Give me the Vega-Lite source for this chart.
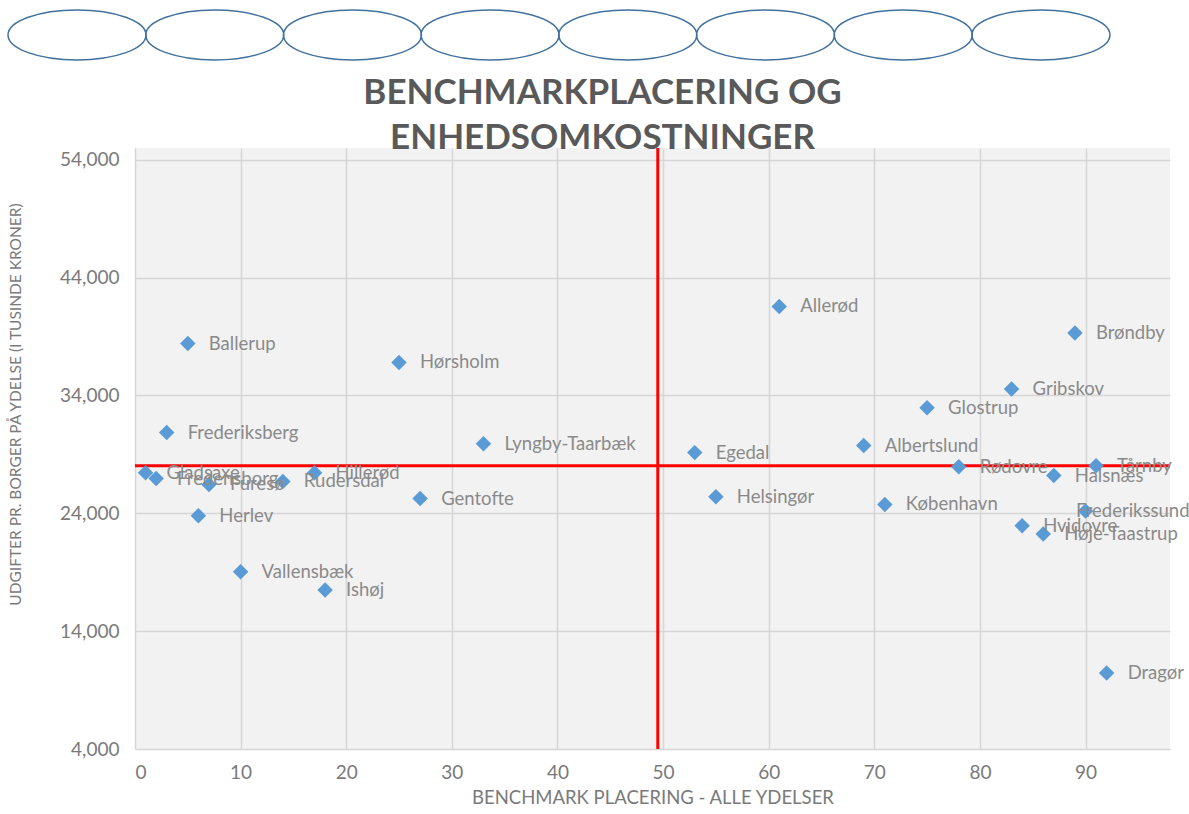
{
  "$schema": "https://vega.github.io/schema/vega-lite/v6.json",
  "width": 1035,
  "height": 601,
  "autosize": {"type": "none"},
  "padding": {"left": 135, "top": 148, "right": 19, "bottom": 65},
  "background": "white",
  "title": {
    "text": ["BENCHMARKPLACERING OG", "ENHEDSOMKOSTNINGER"],
    "frame": "group",
    "anchor": "middle",
    "dx": -50,
    "offset": -149,
    "font": "Lato",
    "fontSize": 35,
    "fontWeight": "bold",
    "color": "#595959",
    "lineHeight": 45
  },
  "config": {
    "view": {"fill": "#f2f2f2", "stroke": null},
    "axis": {
      "labelFont": "Lato",
      "titleFont": "Lato",
      "labelColor": "#7a7a7a",
      "titleColor": "#7a7a7a",
      "gridColor": "#d6d6d6",
      "gridWidth": 1.5,
      "domain": false,
      "ticks": false
    }
  },
  "datasets": {
    "kommuner": [
      {"kommune": "Ballerup", "placering": 5, "udgift": 38400},
      {"kommune": "Hørsholm", "placering": 25, "udgift": 36800},
      {"kommune": "Frederiksberg", "placering": 3, "udgift": 30850},
      {"kommune": "Lyngby-Taarbæk", "placering": 33, "udgift": 29900},
      {"kommune": "Gladsaxe", "placering": 1, "udgift": 27450},
      {"kommune": "Fredensborg", "placering": 2, "udgift": 26950},
      {"kommune": "Furesø", "placering": 7, "udgift": 26450},
      {"kommune": "Rudersdal", "placering": 14, "udgift": 26700},
      {"kommune": "Hillerød", "placering": 17, "udgift": 27450},
      {"kommune": "Gentofte", "placering": 27, "udgift": 25250},
      {"kommune": "Herlev", "placering": 6, "udgift": 23800},
      {"kommune": "Vallensbæk", "placering": 10, "udgift": 19050},
      {"kommune": "Ishøj", "placering": 18, "udgift": 17500},
      {"kommune": "Allerød", "placering": 61, "udgift": 41550},
      {"kommune": "Egedal", "placering": 53, "udgift": 29150},
      {"kommune": "Helsingør", "placering": 55, "udgift": 25400},
      {"kommune": "Albertslund", "placering": 69, "udgift": 29750},
      {"kommune": "København", "placering": 71, "udgift": 24750},
      {"kommune": "Glostrup", "placering": 75, "udgift": 32950},
      {"kommune": "Rødovre", "placering": 78, "udgift": 27950},
      {"kommune": "Gribskov", "placering": 83, "udgift": 34550},
      {"kommune": "Brøndby", "placering": 89, "udgift": 39300},
      {"kommune": "Halsnæs", "placering": 87, "udgift": 27200},
      {"kommune": "Tårnby", "placering": 91, "udgift": 28030},
      {"kommune": "Frederikssund", "placering": 90, "udgift": 24200},
      {"kommune": "Hvidovre", "placering": 84, "udgift": 22950},
      {"kommune": "Høje-Taastrup", "placering": 86, "udgift": 22250},
      {"kommune": "Dragør", "placering": 92, "udgift": 10450}
    ],
    "ellipser": [
      {"pos": -5.49, "niveau": 64590},
      {"pos": 7.55, "niveau": 64590},
      {"pos": 20.59, "niveau": 64590},
      {"pos": 33.62, "niveau": 64590},
      {"pos": 46.66, "niveau": 64590},
      {"pos": 59.70, "niveau": 64590},
      {"pos": 72.74, "niveau": 64590},
      {"pos": 85.78, "niveau": 64590}
    ],
    "skillelinjer_x": [{"median": 49.5}],
    "skillelinjer_y": [{"median": 28030}]
  },
  "layer": [
    {
      "data": {"name": "kommuner"},
      "mark": {"type": "point", "opacity": 0},
      "encoding": {
        "x": {
          "field": "placering", "type": "quantitative",
          "scale": {"domain": [0, 98], "nice": false, "zero": false},
          "axis": {
            "values": [0, 10, 20, 30, 40, 50, 60, 70, 80, 90],
            "title": "BENCHMARK PLACERING - ALLE YDELSER",
            "labelFontSize": 19,
            "labelPadding": 14,
            "titleFontSize": 18.5,
            "titleFontWeight": "normal",
            "titlePadding": 6
          }
        },
        "y": {
          "field": "udgift", "type": "quantitative",
          "scale": {"domain": [4000, 55000], "nice": false, "zero": false},
          "axis": {
            "values": [4000, 14000, 24000, 34000, 44000, 54000],
            "format": ",.0f",
            "title": "UDGIFTER PR. BORGER PÅ YDELSE (I TUSINDE KRONER)",
            "labelFontSize": 19,
            "labelPadding": 16,
            "titleFontSize": 15.5,
            "titleFontWeight": "normal",
            "titleY": 256,
            "titleX": -112
          }
        }
      }
    },
    {
      "data": {"name": "skillelinjer_x"},
      "mark": {"type": "rule", "color": "#ff0000", "strokeWidth": 3},
      "encoding": {"x": {"field": "median", "type": "quantitative"}}
    },
    {
      "data": {"name": "skillelinjer_y"},
      "mark": {"type": "rule", "color": "#ff0000", "strokeWidth": 3},
      "encoding": {"y": {"field": "median", "type": "quantitative"}}
    },
    {
      "data": {"name": "kommuner"},
      "mark": {"type": "point", "shape": "diamond", "filled": true, "size": 240, "color": "#5b9bd5", "opacity": 1},
      "encoding": {
        "x": {"field": "placering", "type": "quantitative"},
        "y": {"field": "udgift", "type": "quantitative"}
      }
    },
    {
      "data": {"name": "kommuner"},
      "transform": [{"filter": "datum.kommune !== 'Frederikssund'"}],
      "mark": {"type": "text", "align": "left", "baseline": "middle", "dx": 21, "font": "Lato", "fontSize": 18.5, "color": "#8a8a8a"},
      "encoding": {
        "x": {"field": "placering", "type": "quantitative"},
        "y": {"field": "udgift", "type": "quantitative"},
        "text": {"field": "kommune", "type": "nominal"}
      }
    },
    {
      "data": {"name": "kommuner"},
      "transform": [{"filter": "datum.kommune === 'Frederikssund'"}],
      "mark": {"type": "text", "align": "right", "baseline": "middle", "dx": 104, "font": "Lato", "fontSize": 18.5, "color": "#8a8a8a"},
      "encoding": {
        "x": {"field": "placering", "type": "quantitative"},
        "y": {"field": "udgift", "type": "quantitative"},
        "text": {"field": "kommune", "type": "nominal"}
      }
    },
    {
      "data": {"name": "ellipser"},
      "mark": {
        "type": "point",
        "shape": "M -1 0 C -1 -0.2 -0.5523 -0.362 0 -0.362 C 0.5523 -0.362 1 -0.2 1 0 C 1 0.2 0.5523 0.362 0 0.362 C -0.5523 0.362 -1 0.2 -1 0 Z",
        "size": 19044,
        "filled": false,
        "color": "#41719c",
        "strokeWidth": 1.5,
        "opacity": 1,
        "clip": false
      },
      "encoding": {
        "x": {"field": "pos", "type": "quantitative"},
        "y": {"field": "niveau", "type": "quantitative"}
      }
    }
  ]
}
